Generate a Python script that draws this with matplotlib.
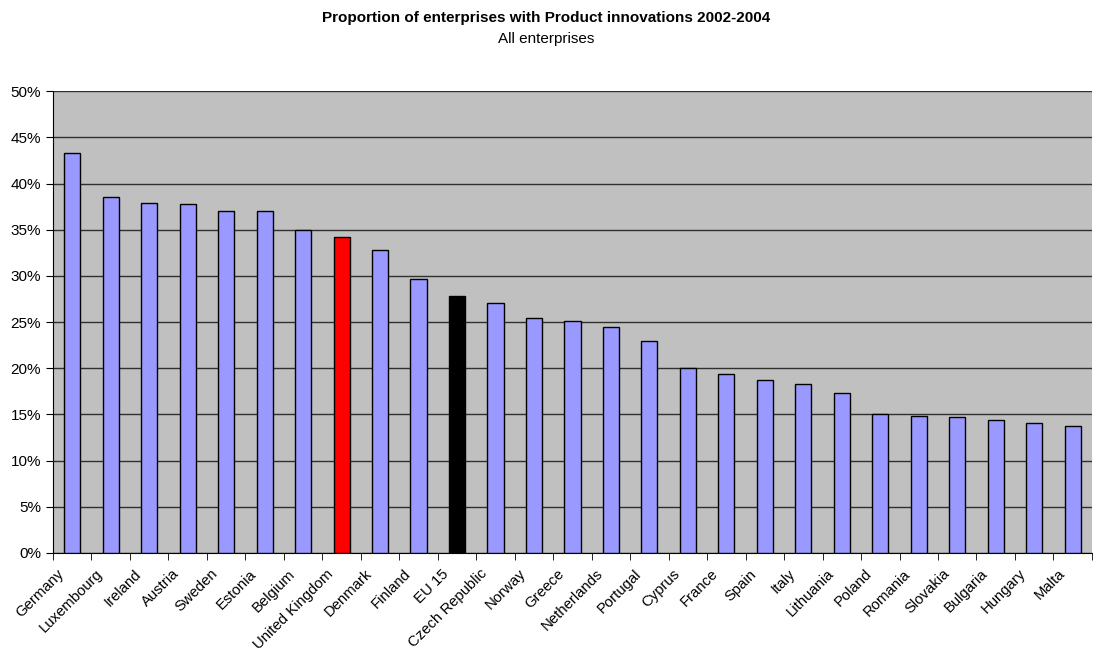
import numpy as np
import matplotlib.pyplot as plt
import matplotlib.transforms as mtransforms
from matplotlib.ticker import FuncFormatter, FixedLocator

plt.rcParams['font.family'] = ['Liberation Sans', 'DejaVu Sans']

countries = ['Germany', 'Luxembourg', 'Ireland', 'Austria', 'Sweden', 'Estonia',
             'Belgium', 'United Kingdom', 'Denmark', 'Finland', 'EU 15',
             'Czech Republic', 'Norway', 'Greece', 'Netherlands', 'Portugal',
             'Cyprus', 'France', 'Spain', 'Italy', 'Lithuania', 'Poland',
             'Romania', 'Slovakia', 'Bulgaria', 'Hungary', 'Malta']
shares = [43.3, 38.5, 37.9, 37.8, 37.0, 37.0, 35.0, 34.2, 32.8, 29.7, 27.8,
          27.1, 25.4, 25.1, 24.5, 23.0, 20.0, 19.4, 18.7, 18.3, 17.3, 15.0,
          14.8, 14.7, 14.4, 14.1, 13.7]

# highlight colours for UK and the EU average
colors = []
for c in countries:
    if c == 'United Kingdom':
        colors.append('#FF0000')
    elif c == 'EU 15':
        colors.append('#000000')
    else:
        colors.append('#9999FF')

fig = plt.figure(figsize=(10.93, 6.52), dpi=100)
ax = fig.add_axes([0.0485, 0.152, 0.9505, 0.708])
ax.set_facecolor('#C0C0C0')

x = np.arange(len(countries))
ax.bar(x, shares, width=0.42, color=colors, edgecolor='black', linewidth=1, zorder=3)

ax.set_xlim(-0.5, len(countries) - 0.5)
ax.set_ylim(0, 50)
ax.set_yticks(np.arange(0, 51, 5))
ax.yaxis.set_major_formatter(FuncFormatter(lambda v, p: '%d%%' % v))
ax.grid(axis='y', color='#303030', linewidth=1, zorder=1)

# tick marks between categories, labels at centres
ax.set_xticks(x)
ax.set_xticklabels(countries, rotation=45, ha='right', rotation_mode='anchor', fontsize=10.7)
ax.tick_params(axis='x', length=0, pad=10)
shift = mtransforms.ScaledTranslation(-11 / 72, 0, fig.dpi_scale_trans)
for lbl in ax.get_xticklabels():
    lbl.set_transform(lbl.get_transform() + shift)
ax.xaxis.set_minor_locator(FixedLocator(np.arange(-0.5, len(countries), 1)))
ax.tick_params(axis='x', which='minor', length=5, direction='out', color='black')
ax.tick_params(axis='y', labelsize=11, length=5, direction='out')

for s in ['top', 'right']:
    ax.spines[s].set_visible(False)
ax.spines['left'].set_color('black')
ax.spines['bottom'].set_color('black')

fig.text(0.5, 0.972, 'Proportion of enterprises with Product innovations 2002-2004',
         ha='center', va='center', fontsize=11, fontweight='bold')
fig.text(0.5, 0.94, 'All enterprises', ha='center', va='center', fontsize=11)

fig.savefig('out.png', dpi=100)
